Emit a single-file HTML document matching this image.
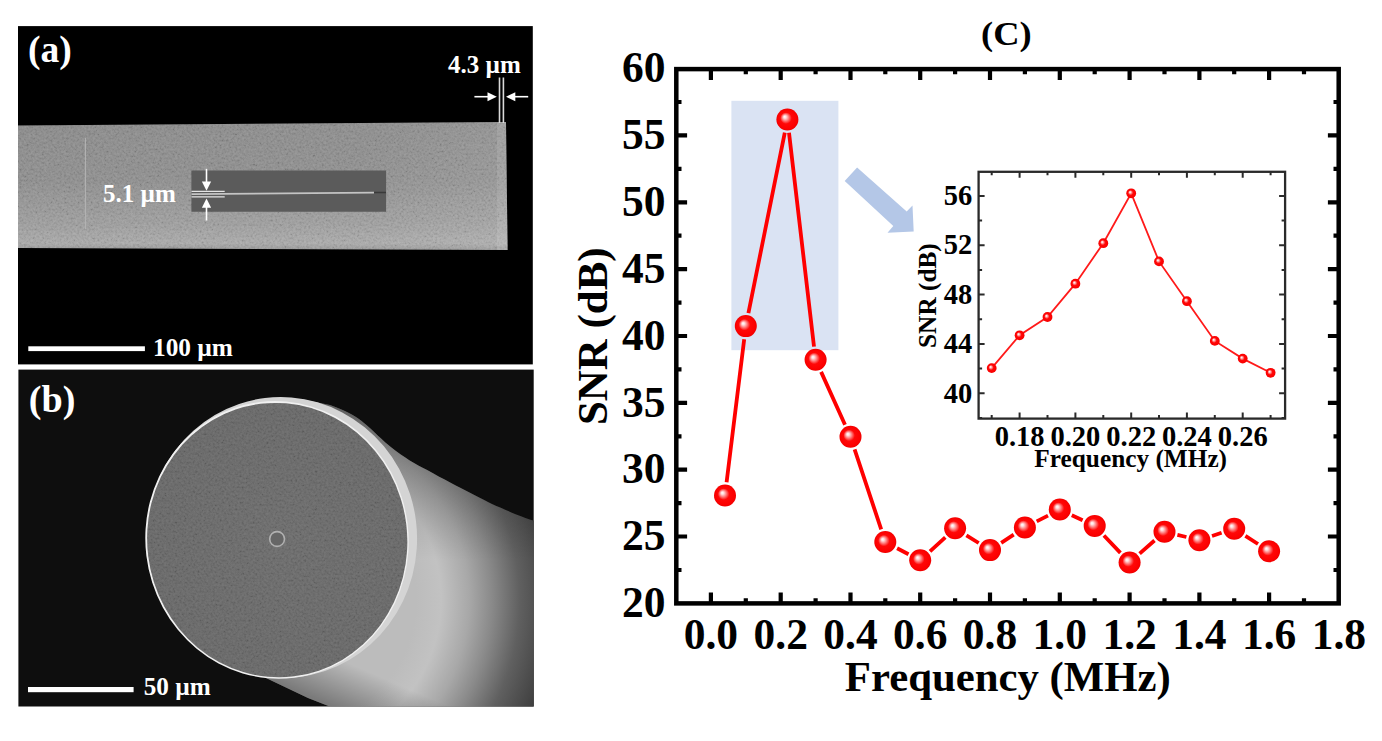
<!DOCTYPE html>
<html><head><meta charset="utf-8"><style>
html,body{margin:0;padding:0;background:#fff;width:1382px;height:741px;overflow:hidden}
svg{display:block}
text{font-family:"Liberation Serif",serif;font-weight:bold}
</style></head><body>
<svg width="1382" height="741" viewBox="0 0 1382 741">
<defs>
<radialGradient id="sph" cx="0.5" cy="0.5" r="0.5" fx="0.37" fy="0.37">
<stop offset="0" stop-color="#ffffff"/>
<stop offset="0.12" stop-color="#ffe0e0"/>
<stop offset="0.3" stop-color="#ff8080"/>
<stop offset="0.52" stop-color="#ff0808"/>
<stop offset="0.9" stop-color="#fb0000"/>
<stop offset="1" stop-color="#ec0000"/>
</radialGradient>
<linearGradient id="stripg" x1="0" y1="0" x2="0" y2="1">
<stop offset="0" stop-color="#888888"/>
<stop offset="0.45" stop-color="#8c8c8c"/>
<stop offset="0.8" stop-color="#9c9c9c"/>
<stop offset="0.95" stop-color="#a8a8a8"/>
<stop offset="1" stop-color="#949494"/>
</linearGradient>
<linearGradient id="striph" x1="0" y1="0" x2="1" y2="0">
<stop offset="0" stop-color="#fff" stop-opacity="0"/>
<stop offset="0.7" stop-color="#fff" stop-opacity="0.02"/>
<stop offset="1" stop-color="#fff" stop-opacity="0.08"/>
</linearGradient>
<radialGradient id="bodyg" gradientUnits="userSpaceOnUse" cx="290" cy="600" r="280">
<stop offset="0.45" stop-color="#bcbcbc"/>
<stop offset="0.54" stop-color="#c2c2c2"/>
<stop offset="0.64" stop-color="#a8a8a8"/>
<stop offset="0.72" stop-color="#8a8a8a"/>
<stop offset="0.82" stop-color="#606060"/>
<stop offset="0.95" stop-color="#3e3e3e"/>
</radialGradient>
<linearGradient id="bodytop" gradientUnits="userSpaceOnUse" x1="0" y1="415" x2="0" y2="560">
<stop offset="0" stop-color="#000" stop-opacity="0.32"/>
<stop offset="1" stop-color="#000" stop-opacity="0"/>
</linearGradient>
<linearGradient id="bodybot" gradientUnits="userSpaceOnUse" x1="300" y1="692" x2="318" y2="650">
<stop offset="0" stop-color="#000" stop-opacity="0.35"/>
<stop offset="1" stop-color="#000" stop-opacity="0"/>
</linearGradient>
<radialGradient id="faceg" gradientUnits="userSpaceOnUse" cx="277" cy="537" r="140">
<stop offset="0" stop-color="#686868"/>
<stop offset="1" stop-color="#646464"/>
</radialGradient>
<filter id="nz" x="0" y="0" width="1" height="1">
<feTurbulence type="fractalNoise" baseFrequency="0.45" numOctaves="2" seed="7"/>
<feColorMatrix type="matrix" values="1.6 0 0 0 -0.3  1.6 0 0 0 -0.3  1.6 0 0 0 -0.3  0 0 0 0 1"/>
</filter>
<clipPath id="clipstrip"><path d="M18,125.5 L506,122 L507.6,250 L18,248 Z"/></clipPath>
<clipPath id="clipface"><ellipse cx="277.2" cy="540.1" rx="130" ry="137.3" transform="rotate(-7 277 539.9)"/></clipPath>
<clipPath id="clipb"><rect x="18.4" y="369.6" width="515.3" height="336.9"/></clipPath>
</defs>
<rect width="1382" height="741" fill="#fff"/>
<rect x="18" y="26.1" width="514.8" height="338.3" fill="#000"/>
<path d="M18,125.5 L506,122 L507.6,250 L18,248" fill="url(#stripg)"/>
<path d="M18,125.5 L506,122 L507.6,250 L18,248" fill="url(#striph)"/>
<rect x="18" y="120" width="490" height="131" filter="url(#nz)" opacity="0.13" clip-path="url(#clipstrip)"/>
<path d="M497,122.1 L506,122 L507.6,250 L497,249.9 Z" fill="#fff" opacity="0.1"/>
<line x1="85.4" y1="138" x2="85.4" y2="229.5" stroke="#b4b4b4" stroke-width="1"/>
<path d="M191.4,170.4 L386.1,170.4 L386.1,211.8 L191.4,211.8 Z" fill="#5b5b5b"/>
<line x1="191.5" y1="194.2" x2="374" y2="192.6" stroke="#c4c4c4" stroke-width="1.8"/>
<line x1="374" y1="192.6" x2="386" y2="192.5" stroke="#3a3a3a" stroke-width="1.5"/>
<line x1="191.5" y1="191.4" x2="224.7" y2="191.4" stroke="#e4e4e4" stroke-width="1.3"/>
<line x1="191.5" y1="196.8" x2="224.7" y2="196.8" stroke="#e4e4e4" stroke-width="1.3"/>
<line x1="206.5" y1="168.8" x2="206.5" y2="183" stroke="#fff" stroke-width="1.6"/>
<path d="M201.9,181.5 L206.5,190.7 L211.1,181.5 Z" fill="#fff"/>
<line x1="206.5" y1="206" x2="206.5" y2="220.5" stroke="#fff" stroke-width="1.6"/>
<path d="M201.9,207.8 L206.5,198.6 L211.1,207.8 Z" fill="#fff"/>
<text x="103.1" y="202" font-family="Liberation Serif" font-weight="bold" font-size="25" fill="#fff">5.1 µm</text>
<line x1="499.5" y1="77.5" x2="499.5" y2="123" stroke="#d8d8d8" stroke-width="1.6"/>
<line x1="503.4" y1="77.5" x2="503.4" y2="123" stroke="#d8d8d8" stroke-width="1.6"/>
<line x1="474.4" y1="96.7" x2="489" y2="96.7" stroke="#fff" stroke-width="1.6"/>
<path d="M487.5,92.2 L496.8,96.7 L487.5,101.2 Z" fill="#fff"/>
<line x1="514" y1="96.7" x2="528.2" y2="96.7" stroke="#fff" stroke-width="1.6"/>
<path d="M515.3,92.2 L506,96.7 L515.3,101.2 Z" fill="#fff"/>
<text x="448" y="73" font-family="Liberation Serif" font-weight="bold" font-size="25" fill="#fff">4.3 µm</text>
<text x="28.1" y="62.3" font-family="Liberation Serif" font-weight="bold" font-size="38.7" textLength="43.8" lengthAdjust="spacingAndGlyphs" fill="#fff">(a)</text>
<rect x="28.3" y="346.3" width="116.6" height="4.8" fill="#fff"/>
<text x="153" y="355.7" font-family="Liberation Serif" font-weight="bold" font-size="25.3" fill="#fff">100 µm</text>
<rect x="18.4" y="369.6" width="515.3" height="336.9" fill="#0e0e0e"/>
<g clip-path="url(#clipb)">
<path id="bodyp" d="M300,399 L330,405 C345,410 355,416 361.6,421 C375,432 383,441 390.8,447 C405,458 415,464 427.2,470 C445,480 455,485 463.7,489.4 C480,498 490,503 500.2,507.6 C515,514 525,518 534,520.8 L534,707 L331,707 L308,698 L266,678 L200,640 Z" fill="url(#bodyg)"/>
<path d="M300,399 L330,405 C345,410 355,416 361.6,421 C375,432 383,441 390.8,447 C405,458 415,464 427.2,470 C445,480 455,485 463.7,489.4 C480,498 490,503 500.2,507.6 C515,514 525,518 534,520.8 L534,707 L331,707 L308,698 L266,678 L200,640 Z" fill="url(#bodytop)"/>
<path d="M200,640 L266,678 L308,698 L331,707 L460,707 L460,600 Z" fill="url(#bodybot)"/>
<ellipse cx="282" cy="537.5" rx="135" ry="140.5" transform="rotate(-7 282 537.5)" fill="#d4d4d4"/>
<ellipse cx="277" cy="539.9" rx="131.6" ry="138.9" transform="rotate(-7 277 539.9)" fill="#f0f0f0"/>
<ellipse cx="277.2" cy="540.1" rx="130" ry="137.3" transform="rotate(-7 277 539.9)" fill="url(#faceg)"/>
<rect x="140" y="395" width="275" height="290" filter="url(#nz)" opacity="0.1" clip-path="url(#clipface)"/>
<circle cx="277.1" cy="539" r="7.4" fill="#666" stroke="#b0b0b0" stroke-width="1.6"/>
</g>
<text x="28.8" y="411.7" font-family="Liberation Serif" font-weight="bold" font-size="38.5" textLength="46.6" lengthAdjust="spacingAndGlyphs" fill="#fff">(b)</text>
<rect x="28" y="687" width="105.6" height="5.2" fill="#fff"/>
<text x="143.7" y="694.9" font-family="Liberation Serif" font-weight="bold" font-size="25.2" fill="#fff">50 µm</text>
<text x="981" y="45.4" font-family="Liberation Serif" font-weight="bold" font-size="34.2" textLength="50.6" lengthAdjust="spacingAndGlyphs" fill="#000">(C)</text>
<rect x="731.4" y="100.8" width="107" height="249.4" fill="#dae3f3"/>
<path d="M844.7,181.1 L857.1,167.5 L906.7,211.5 L912.5,205.4 L913.7,231.5 L887.5,232.7 L893.3,226.1 Z" fill="#b4c7e7"/>
<rect x="676.3" y="69.1" width="662.4" height="534.3" fill="none" stroke="#000" stroke-width="4.5"/>
<path d="M710.9,603.4V592.6M710.9,69.1V79.9M745.8,603.4V598.2M745.8,69.1V74.3M780.7,603.4V592.6M780.7,69.1V79.9M815.6,603.4V598.2M815.6,69.1V74.3M850.5,603.4V592.6M850.5,69.1V79.9M885.3,603.4V598.2M885.3,69.1V74.3M920.2,603.4V592.6M920.2,69.1V79.9M955.1,603.4V598.2M955.1,69.1V74.3M990.0,603.4V592.6M990.0,69.1V79.9M1024.9,603.4V598.2M1024.9,69.1V74.3M1059.8,603.4V592.6M1059.8,69.1V79.9M1094.7,603.4V598.2M1094.7,69.1V74.3M1129.6,603.4V592.6M1129.6,69.1V79.9M1164.5,603.4V598.2M1164.5,69.1V74.3M1199.4,603.4V592.6M1199.4,69.1V79.9M1234.2,603.4V598.2M1234.2,69.1V74.3M1269.1,603.4V592.6M1269.1,69.1V79.9M1304.0,603.4V598.2M1304.0,69.1V74.3M676.3,570.0H681.5M1338.7,570.0H1333.5M676.3,536.5H687.1M1338.7,536.5H1327.9M676.3,503.1H681.5M1338.7,503.1H1333.5M676.3,469.7H687.1M1338.7,469.7H1327.9M676.3,436.3H681.5M1338.7,436.3H1333.5M676.3,402.9H687.1M1338.7,402.9H1327.9M676.3,369.4H681.5M1338.7,369.4H1333.5M676.3,336.0H687.1M1338.7,336.0H1327.9M676.3,302.6H681.5M1338.7,302.6H1333.5M676.3,269.1H687.1M1338.7,269.1H1327.9M676.3,235.7H681.5M1338.7,235.7H1333.5M676.3,202.3H687.1M1338.7,202.3H1327.9M676.3,168.9H681.5M1338.7,168.9H1333.5M676.3,135.4H687.1M1338.7,135.4H1327.9M676.3,102.0H681.5M1338.7,102.0H1333.5" stroke="#000" stroke-width="4.2" fill="none"/>
<text x="665.6" y="617.0" font-family="Liberation Serif" font-weight="bold" font-size="43.5" text-anchor="end">20</text>
<text x="665.6" y="550.1" font-family="Liberation Serif" font-weight="bold" font-size="43.5" text-anchor="end">25</text>
<text x="665.6" y="483.3" font-family="Liberation Serif" font-weight="bold" font-size="43.5" text-anchor="end">30</text>
<text x="665.6" y="416.5" font-family="Liberation Serif" font-weight="bold" font-size="43.5" text-anchor="end">35</text>
<text x="665.6" y="349.6" font-family="Liberation Serif" font-weight="bold" font-size="43.5" text-anchor="end">40</text>
<text x="665.6" y="282.8" font-family="Liberation Serif" font-weight="bold" font-size="43.5" text-anchor="end">45</text>
<text x="665.6" y="215.9" font-family="Liberation Serif" font-weight="bold" font-size="43.5" text-anchor="end">50</text>
<text x="665.6" y="149.0" font-family="Liberation Serif" font-weight="bold" font-size="43.5" text-anchor="end">55</text>
<text x="665.6" y="82.2" font-family="Liberation Serif" font-weight="bold" font-size="43.5" text-anchor="end">60</text>
<text x="710.9" y="649" font-family="Liberation Serif" font-weight="bold" font-size="43.5" text-anchor="middle">0.0</text>
<text x="780.7" y="649" font-family="Liberation Serif" font-weight="bold" font-size="43.5" text-anchor="middle">0.2</text>
<text x="850.5" y="649" font-family="Liberation Serif" font-weight="bold" font-size="43.5" text-anchor="middle">0.4</text>
<text x="920.2" y="649" font-family="Liberation Serif" font-weight="bold" font-size="43.5" text-anchor="middle">0.6</text>
<text x="990.0" y="649" font-family="Liberation Serif" font-weight="bold" font-size="43.5" text-anchor="middle">0.8</text>
<text x="1059.8" y="649" font-family="Liberation Serif" font-weight="bold" font-size="43.5" text-anchor="middle">1.0</text>
<text x="1129.6" y="649" font-family="Liberation Serif" font-weight="bold" font-size="43.5" text-anchor="middle">1.2</text>
<text x="1199.4" y="649" font-family="Liberation Serif" font-weight="bold" font-size="43.5" text-anchor="middle">1.4</text>
<text x="1269.1" y="649" font-family="Liberation Serif" font-weight="bold" font-size="43.5" text-anchor="middle">1.6</text>
<text x="1338.9" y="649" font-family="Liberation Serif" font-weight="bold" font-size="43.5" text-anchor="middle">1.8</text>
<text x="1007.8" y="690.5" font-family="Liberation Serif" font-weight="bold" font-size="42.8" text-anchor="middle">Frequency (MHz)</text>
<text transform="translate(607,336.2) rotate(-90)" font-family="Liberation Serif" font-weight="bold" font-size="42.9" text-anchor="middle">SNR (dB)</text>
<path d="M726.6,482.3L744.2,339.3M748.4,313.1L784.8,132.6M789.0,132.7L814.0,346.6M821.1,371.9L845.0,424.7M854.6,449.4L881.2,529.4M897.1,548.2L908.5,554.2M930.0,551.3L945.3,537.3M966.4,535.3L978.7,543.0M1001.2,542.8L1013.7,534.7M1036.7,521.4L1048.0,515.6M1071.8,515.2L1082.6,520.2M1103.9,535.5L1120.4,552.9M1139.6,553.7L1154.5,540.5M1177.4,534.9L1186.4,537.0M1212.0,536.0L1221.6,532.8M1245.4,535.9L1258.0,544.0" stroke="#ff0000" stroke-width="3.8" stroke-linecap="butt" fill="none"/>
<circle cx="725.0" cy="495.5" r="11" fill="url(#sph)"/>
<circle cx="745.8" cy="326.1" r="11" fill="url(#sph)"/>
<circle cx="787.4" cy="119.5" r="11" fill="url(#sph)"/>
<circle cx="815.6" cy="359.8" r="11" fill="url(#sph)"/>
<circle cx="850.5" cy="436.8" r="11" fill="url(#sph)"/>
<circle cx="885.3" cy="542.0" r="11" fill="url(#sph)"/>
<circle cx="920.2" cy="560.3" r="11" fill="url(#sph)"/>
<circle cx="955.1" cy="528.3" r="11" fill="url(#sph)"/>
<circle cx="990.0" cy="550.1" r="11" fill="url(#sph)"/>
<circle cx="1024.9" cy="527.5" r="11" fill="url(#sph)"/>
<circle cx="1059.8" cy="509.5" r="11" fill="url(#sph)"/>
<circle cx="1094.7" cy="525.9" r="11" fill="url(#sph)"/>
<circle cx="1129.6" cy="562.5" r="11" fill="url(#sph)"/>
<circle cx="1164.5" cy="531.7" r="11" fill="url(#sph)"/>
<circle cx="1199.4" cy="540.2" r="11" fill="url(#sph)"/>
<circle cx="1234.2" cy="528.7" r="11" fill="url(#sph)"/>
<circle cx="1269.1" cy="551.3" r="11" fill="url(#sph)"/>
<rect x="978.6" y="171.8" width="306.5" height="246.8" fill="#fff" stroke="#2a2a2a" stroke-width="2.3"/>
<path d="M991.7,418.6V415.1M991.7,171.8V175.3M1019.6,418.6V412.6M1019.6,171.8V177.8M1047.5,418.6V415.1M1047.5,171.8V175.3M1075.4,418.6V412.6M1075.4,171.8V177.8M1103.3,418.6V415.1M1103.3,171.8V175.3M1131.2,418.6V412.6M1131.2,171.8V177.8M1159.0,418.6V415.1M1159.0,171.8V175.3M1186.9,418.6V412.6M1186.9,171.8V177.8M1214.8,418.6V415.1M1214.8,171.8V175.3M1242.7,418.6V412.6M1242.7,171.8V177.8M1270.6,418.6V415.1M1270.6,171.8V175.3M978.6,418.0H982.1M1285.1,418.0H1281.6M978.6,393.3H984.6M1285.1,393.3H1279.1M978.6,368.6H982.1M1285.1,368.6H1281.6M978.6,343.9H984.6M1285.1,343.9H1279.1M978.6,319.3H982.1M1285.1,319.3H1281.6M978.6,294.6H984.6M1285.1,294.6H1279.1M978.6,269.9H982.1M1285.1,269.9H1281.6M978.6,245.2H984.6M1285.1,245.2H1279.1M978.6,220.5H982.1M1285.1,220.5H1281.6M978.6,195.9H984.6M1285.1,195.9H1279.1" stroke="#2a2a2a" stroke-width="2" fill="none"/>
<text x="972.3" y="402.5" font-family="Liberation Serif" font-weight="bold" font-size="28.5" text-anchor="end">40</text>
<text x="972.3" y="353.1" font-family="Liberation Serif" font-weight="bold" font-size="28.5" text-anchor="end">44</text>
<text x="972.3" y="303.8" font-family="Liberation Serif" font-weight="bold" font-size="28.5" text-anchor="end">48</text>
<text x="972.3" y="254.4" font-family="Liberation Serif" font-weight="bold" font-size="28.5" text-anchor="end">52</text>
<text x="972.3" y="205.1" font-family="Liberation Serif" font-weight="bold" font-size="28.5" text-anchor="end">56</text>
<text x="1019.6" y="445.5" font-family="Liberation Serif" font-weight="bold" font-size="28.5" text-anchor="middle">0.18</text>
<text x="1075.4" y="445.5" font-family="Liberation Serif" font-weight="bold" font-size="28.5" text-anchor="middle">0.20</text>
<text x="1131.2" y="445.5" font-family="Liberation Serif" font-weight="bold" font-size="28.5" text-anchor="middle">0.22</text>
<text x="1186.9" y="445.5" font-family="Liberation Serif" font-weight="bold" font-size="28.5" text-anchor="middle">0.24</text>
<text x="1242.7" y="445.5" font-family="Liberation Serif" font-weight="bold" font-size="28.5" text-anchor="middle">0.26</text>
<text x="1130.7" y="466.9" font-family="Liberation Serif" font-weight="bold" font-size="25.3" text-anchor="middle">Frequency (MHz)</text>
<text transform="translate(936.3,295.6) rotate(-90)" font-family="Liberation Serif" font-weight="bold" font-size="25.3" text-anchor="middle">SNR (dB)</text>
<polyline points="991.7,368.1 1019.6,335.3 1047.5,317.0 1075.4,283.7 1103.3,243.2 1131.2,193.3 1159.0,261.4 1186.9,301.2 1214.8,340.9 1242.7,358.6 1270.6,372.8" stroke="#ff1a1a" stroke-width="1.8" fill="none"/>
<circle cx="991.7" cy="368.1" r="4.9" fill="url(#sph)"/>
<circle cx="1019.6" cy="335.3" r="4.9" fill="url(#sph)"/>
<circle cx="1047.5" cy="317.0" r="4.9" fill="url(#sph)"/>
<circle cx="1075.4" cy="283.7" r="4.9" fill="url(#sph)"/>
<circle cx="1103.3" cy="243.2" r="4.9" fill="url(#sph)"/>
<circle cx="1131.2" cy="193.3" r="4.9" fill="url(#sph)"/>
<circle cx="1159.0" cy="261.4" r="4.9" fill="url(#sph)"/>
<circle cx="1186.9" cy="301.2" r="4.9" fill="url(#sph)"/>
<circle cx="1214.8" cy="340.9" r="4.9" fill="url(#sph)"/>
<circle cx="1242.7" cy="358.6" r="4.9" fill="url(#sph)"/>
<circle cx="1270.6" cy="372.8" r="4.9" fill="url(#sph)"/>
</svg>
</body></html>
